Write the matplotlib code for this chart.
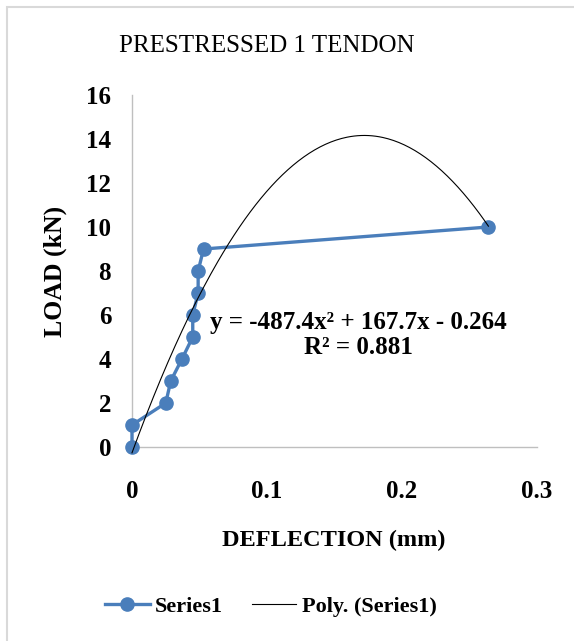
import numpy as np
import matplotlib
matplotlib.use("Agg")
import matplotlib.pyplot as plt
from matplotlib.patches import Rectangle

# datos
deflection = [0.0, 0.0, 0.025, 0.0287, 0.037, 0.045, 0.045, 0.049, 0.049, 0.053, 0.264]
load = [0, 1, 2, 3, 4, 5, 6, 7, 8, 9, 10]
poly_coef = [-487.4, 167.7, -0.264]
x_ticks = [0, 0.1, 0.2, 0.3]
x_tick_labels = ["0", "0.1", "0.2", "0.3"]
y_ticks = [0, 2, 4, 6, 8, 10, 12, 14, 16]

plt.rcParams['font.family'] = ['Liberation Serif', 'DejaVu Serif']

W, H = 574, 641
fig = plt.figure(figsize=(W / 100, H / 100), dpi=100)
fig.patch.set_facecolor('white')

# borde del grafico (recortado a la derecha y abajo)
fig.patches.append(Rectangle((7 / W, -0.1), 1.2, 1 - 7 / H + 0.1, transform=fig.transFigure,
                             fill=False, edgecolor='#d9d9d9', linewidth=1.5))

ax = fig.add_axes([132 / W, (H - 447) / H, (537 - 132) / W, (447 - 95) / H])
ax.set_xlim(0, 0.3)
ax.set_ylim(0, 16)

blue = '#4a7ebb'
ax.plot(deflection, load, color=blue, linewidth=2.4, marker='o', markersize=9.5,
        label='Series1', zorder=3, clip_on=False)

xs = np.linspace(0, max(deflection), 200)
ax.plot(xs, np.polyval(poly_coef, xs), color='black', linewidth=0.8,
        label='Poly. (Series1)', zorder=4, clip_on=False)

for side in ['top', 'right']:
    ax.spines[side].set_visible(False)
for side in ['left', 'bottom']:
    ax.spines[side].set_color('#bfbfbf')
    ax.spines[side].set_linewidth(1)

ax.set_xticks(x_ticks)
ax.set_xticklabels(x_tick_labels, fontsize=18, fontweight='bold')
ax.set_yticks(y_ticks)
ax.set_yticklabels([str(v) for v in y_ticks], fontsize=18, fontweight='bold')
ax.tick_params(axis='x', length=0, pad=24)
ax.tick_params(axis='y', length=0, pad=15)

fig.text(334 / W, 1 - 540 / H, 'DEFLECTION (mm)', fontsize=17.5, fontweight='bold',
         ha='center', va='center')
fig.text(55 / W, 1 - 271 / H, 'LOAD (kN)', fontsize=18.5, fontweight='bold',
         ha='center', va='center', rotation=90)

fig.text(267 / W, 1 - 46 / H, 'PRESTRESSED 1 TENDON', fontsize=18,
         ha='center', va='center')

ax.text(0.168, 5.65, 'y = -487.4x² + 167.7x - 0.264', fontsize=18, fontweight='bold',
        ha='center', va='center')
ax.text(0.168, 4.5, 'R² = 0.881', fontsize=18, fontweight='bold',
        ha='center', va='center')

fig.legend(loc='center', bbox_to_anchor=(271 / W, 1 - 607 / H), ncol=2, frameon=False,
           prop={'size': 16, 'weight': 'bold'}, handlelength=2.0, handletextpad=0.25,
           columnspacing=1.3)

fig.savefig('out.png', dpi=100, facecolor='white')
